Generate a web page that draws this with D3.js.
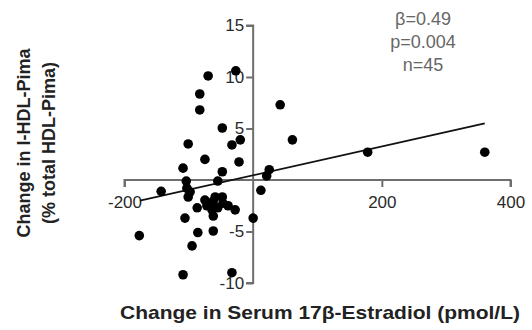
<!DOCTYPE html>
<html>
<head>
<meta charset="utf-8">
<script src="https://cdn.jsdelivr.net/npm/d3@7"></script>
<style>
  html, body { margin: 0; padding: 0; background: #fff; }
  svg { display: block; font-family: Arial, "Liberation Sans", sans-serif; }
</style>
</head>
<body>
<svg id="chart" width="532" height="330"></svg>
<script>
// Data
const estradiolChange = [-70, -83, -83, -27, -48, -101, -33, -20, 42, 61,
  -75, -22, -109, -48, 25, 21, -104, -55, -103, -143,
  12, -101, -75, -62, -48, -47, -87, -64, -55, -28,
  -62, -106, 0, -177, -86, -62, -95, -109, -33, 178,
  360, -98, -59, -72, -39];
const hdlChange = [10.1, 8.35, 6.8, 10.6, 5.05, 3.5, 3.4, 3.9, 7.3, 3.9,
  2.0, 1.75, 1.15, 0.8, 1.0, 0.4, -0.1, -0.1, -0.8, -1.1,
  -1.0, -1.65, -1.95, -2.05, -1.65, -2.25, -2.7, -2.9, -2.7, -2.9,
  -3.5, -3.7, -3.7, -5.4, -5.1, -4.95, -6.4, -9.2, -9.0, 2.7,
  2.7, -1.15, -1.65, -2.5, -2.5];
const fitX = [-176, 360];
const fitY = [-2.0, 5.5];
const xTicks = [-200, 200, 400];
const xTickMarks = [-200, 0, 200, 400];
const yTicks = [15, 10, 5, -5, -10];
const statsLines = ["β=0.49", "p=0.004", "n=45"];
const xTitle = "Change in Serum 17β-Estradiol (pmol/L)";
const yTitle = ["Change in I-HDL-Pima", "(% total HDL-Pima)"];

const svg = d3.select("#chart");
const x = d3.scaleLinear().domain([-200, 400]).range([124.5, 510.5]);
const y = d3.scaleLinear().domain([-10, 15]).range([283, 25.5]);

const axisColor = "#6e6e6e";

// X axis at y = 0
const xAxis = d3.axisBottom(x).tickValues(xTickMarks).tickSize(7)
  .tickFormat(d => xTicks.includes(d) ? String(d) : "");
const gx = svg.append("g").attr("transform", `translate(0,${y(0)})`).call(xAxis);
gx.select(".domain").attr("stroke", axisColor).attr("stroke-width", 2).attr("fill", "none")
  .attr("d", `M${x(-200)},7V0H${x(400)}V7`);
gx.selectAll(".tick line").attr("stroke", axisColor).attr("stroke-width", 2);
gx.selectAll(".tick").filter(d => d === 0).select("line").remove();
gx.selectAll(".tick text").attr("font-size", 17).attr("fill", "#2a2a2a").attr("dy", "1.05em")
  .attr("font-family", "Arial, 'Liberation Sans', sans-serif");

// Y axis at x = 0
const yAxis = d3.axisLeft(y).tickValues(yTicks).tickSize(7).tickFormat(d => String(d));
const gy = svg.append("g").attr("transform", `translate(${x(0)},0)`).call(yAxis);
gy.select(".domain").attr("stroke", axisColor).attr("stroke-width", 2).attr("fill", "none")
  .attr("d", `M-7,${y(15)}H0V${y(-10)}H-7`);
gy.selectAll(".tick line").attr("stroke", axisColor).attr("stroke-width", 2);
gy.selectAll(".tick text").attr("font-size", 17).attr("fill", "#2a2a2a").attr("x", -9)
  .attr("font-family", "Arial, 'Liberation Sans', sans-serif");

// Regression line
svg.append("line")
  .attr("x1", x(fitX[0])).attr("y1", y(fitY[0]))
  .attr("x2", x(fitX[1])).attr("y2", y(fitY[1]))
  .attr("stroke", "#111").attr("stroke-width", 1.8);

// Points
svg.append("g").selectAll("circle")
  .data(estradiolChange.map((v, i) => [v, hdlChange[i]]))
  .join("circle")
  .attr("cx", d => x(d[0])).attr("cy", d => y(d[1]))
  .attr("r", 4.8).attr("fill", "#000");

// Stats annotation
svg.append("g").selectAll("text").data(statsLines).join("text")
  .attr("x", 423).attr("y", (d, i) => 25 + i * 23)
  .attr("text-anchor", "middle").attr("font-size", 18).attr("fill", "#666")
  .text(d => d);

// Axis titles
svg.append("text").attr("x", 320).attr("y", 319).attr("text-anchor", "middle")
  .attr("font-size", 19).attr("font-weight", "bold").attr("fill", "#222")
  .attr("textLength", 400).attr("lengthAdjust", "spacingAndGlyphs")
  .text(xTitle);

const yt = svg.append("g").attr("transform", "translate(0,143) rotate(-90)");
yt.selectAll("text").data(yTitle).join("text")
  .attr("x", 0).attr("y", (d, i) => 30 + i * 25)
  .attr("text-anchor", "middle").attr("font-size", 18).attr("font-weight", "bold").attr("fill", "#222")
  .text(d => d);
</script>
</body>
</html>
